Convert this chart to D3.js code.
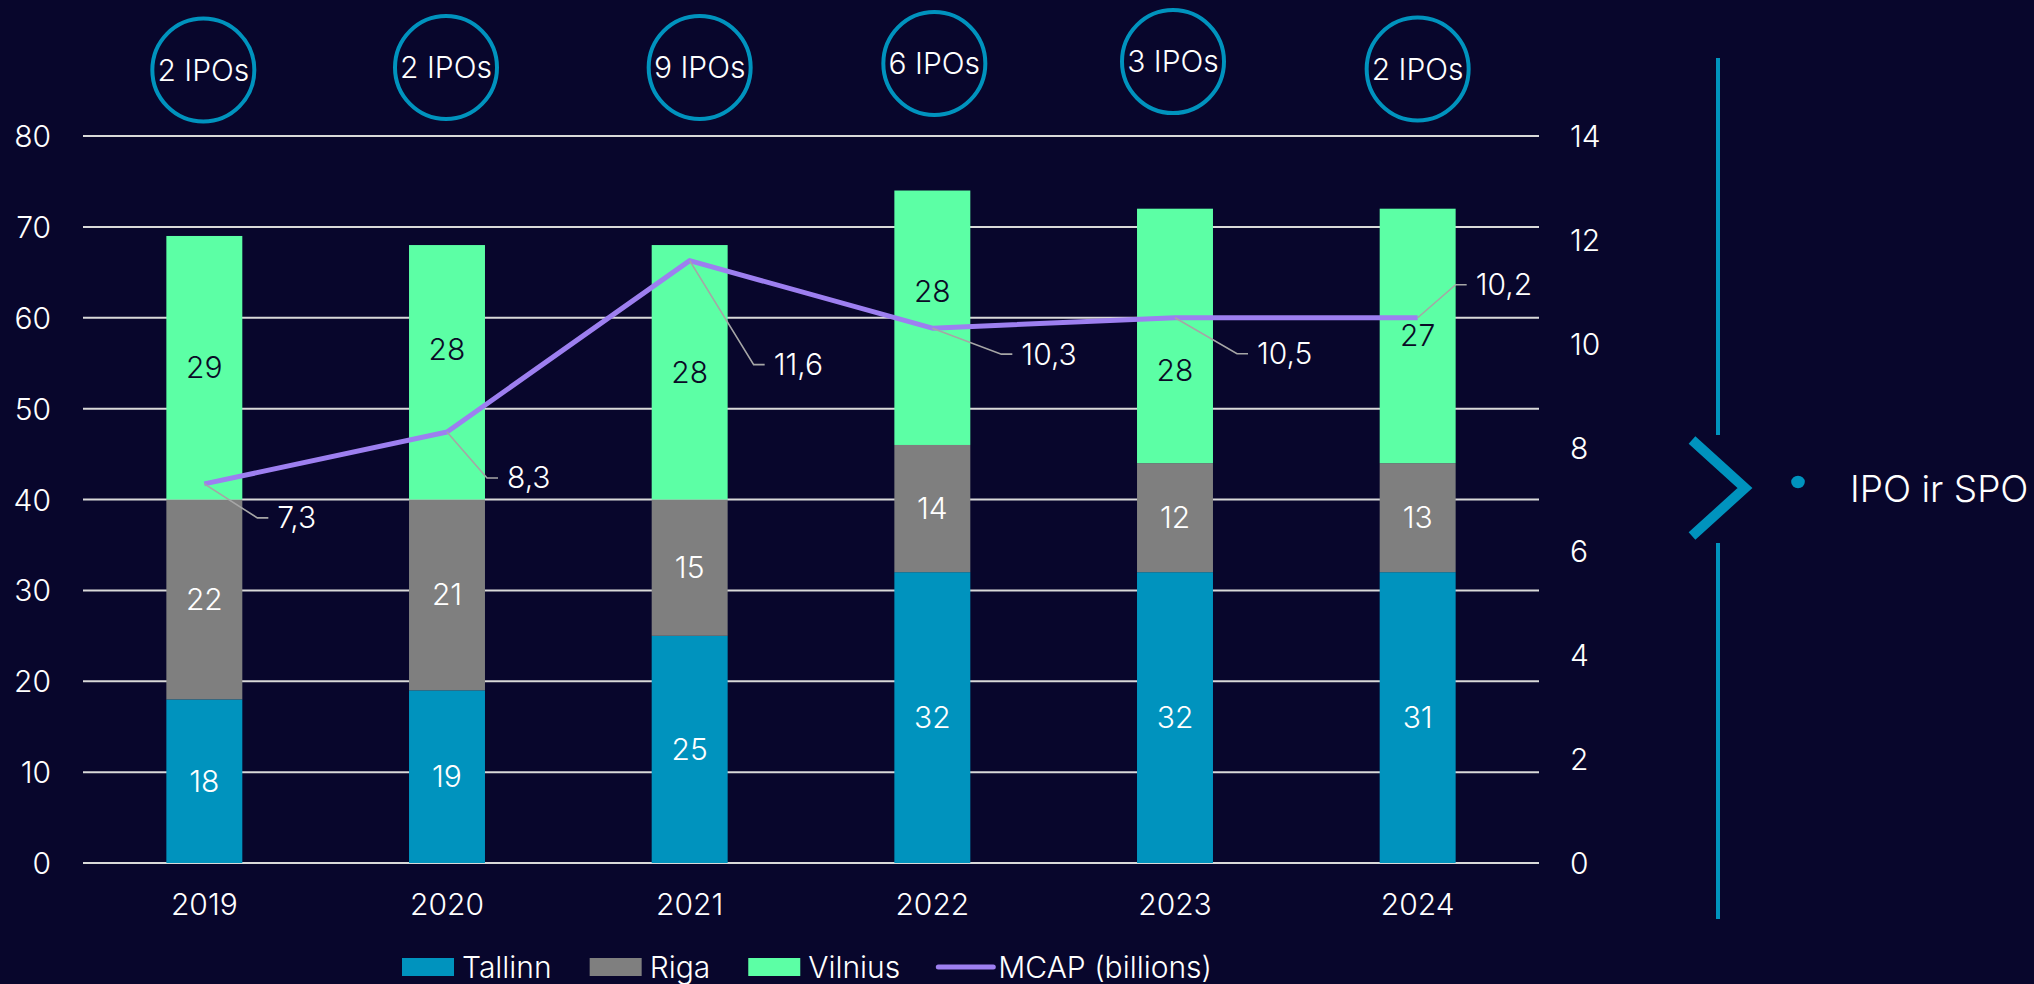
<!DOCTYPE html>
<html>
<head>
<meta charset="utf-8">
<script src="https://cdn.jsdelivr.net/npm/d3@7"></script>
<style>
  html, body { margin: 0; padding: 0; background: #08062c; }
  svg text { font-family: Inter, "Noto Sans", sans-serif; font-weight: 300; }
</style>
</head>
<body>
<div class="chart"></div>
<script>
// values
var years = ["2019", "2020", "2021", "2022", "2023", "2024"];
var tallinn = [18, 19, 25, 32, 32, 32];
var riga = [22, 21, 15, 14, 12, 12];
var vilnius = [29, 28, 28, 28, 28, 28];
// printed segment labels (the 2024 ones differ from the drawn heights)
var tallinnLabels = ["18", "19", "25", "32", "32", "31"];
var rigaLabels = ["22", "21", "15", "14", "12", "13"];
var vilniusLabels = ["29", "28", "28", "28", "28", "27"];
var mcap = [7.3, 8.3, 11.6, 10.3, 10.5, 10.5];
var mcapLabels = ["7,3", "8,3", "11,6", "10,3", "10,5", "10,2"];
var ipos = [2, 2, 9, 6, 3, 2];
var leftTicks = [0, 10, 20, 30, 40, 50, 60, 70, 80];
var rightTicks = [0, 2, 4, 6, 8, 10, 12, 14];
var seriesNames = ["Tallinn", "Riga", "Vilnius"];
var lineName = "MCAP (billions)";

var W = 2034, H = 984;
var colors = { Tallinn: "#0093be", Riga: "#7f7f7f", Vilnius: "#5cffa5" };
var lineColor = "#9d7ff0";
var accent = "#0093be";

var svg = d3.select(".chart")
    .append("svg")
    .attr("width", W)
    .attr("height", H);

svg.append("rect").attr("width", W).attr("height", H).attr("fill", "#08062c");

var plot = { left: 83, right: 1539, top: 136, bottom: 863 };

var x = d3.scaleBand()
    .domain(years)
    .range([plot.left, plot.right])
    .paddingInner(0.687)
    .paddingOuter(0.3435);

var y = d3.scaleLinear().domain([0, 80]).range([plot.bottom, plot.top]);
var yR = d3.scaleLinear().domain([0, 14]).range([plot.bottom, plot.top]);

// gridlines
svg.selectAll(".grid")
    .data(leftTicks)
    .enter()
    .append("line")
    .attr("class", "grid")
    .attr("x1", plot.left)
    .attr("x2", plot.right)
    .attr("y1", function (d) { return y(d); })
    .attr("y2", function (d) { return y(d); })
    .attr("stroke", "#d9d9d9")
    .attr("stroke-width", 2);

// left axis
var yAxis = d3.axisLeft(y).tickValues(leftTicks).tickSize(0).tickPadding(0);
var gl = svg.append("g").attr("transform", "translate(51,0)").call(yAxis);
gl.select(".domain").remove();
gl.selectAll("text").attr("fill", "#ffffff").style("font-size", "30px").attr("dy", "0.35em");

// right axis
var yAxisR = d3.axisRight(yR).tickValues(rightTicks).tickSize(0).tickPadding(0);
var gr = svg.append("g").attr("transform", "translate(1570,0)").call(yAxisR);
gr.select(".domain").remove();
gr.selectAll("text").attr("fill", "#ffffff").style("font-size", "30px").attr("dy", "0.35em");

// x axis
var xAxis = d3.axisBottom(x).tickSize(0).tickPadding(0);
var gx = svg.append("g").attr("transform", "translate(0,904)").call(xAxis);
gx.select(".domain").remove();
gx.selectAll("text").attr("fill", "#ffffff").style("font-size", "30px").attr("dy", "0.35em");

// stacked bars
var rows = years.map(function (yr, i) {
    return { year: yr, Tallinn: tallinn[i], Riga: riga[i], Vilnius: vilnius[i] };
});
var stacked = d3.stack().keys(seriesNames)(rows);
var labelSets = { Tallinn: tallinnLabels, Riga: rigaLabels, Vilnius: vilniusLabels };
var labelColors = { Tallinn: "#ffffff", Riga: "#ffffff", Vilnius: "#0a0a26" };
// vertical nudges where the labels were moved clear of the line
var labelShift = { Tallinn: [0, 0, 0, 0, 0, 0], Riga: [0, 0, 0, 0, 0, 0], Vilnius: [0, -23, 0, -26, 35, 0] };

stacked.forEach(function (layer) {
    var g = svg.append("g");
    g.selectAll("rect")
        .data(layer)
        .enter()
        .append("rect")
        .attr("x", function (d) { return x(d.data.year); })
        .attr("width", x.bandwidth())
        .attr("y", function (d) { return y(d[1]); })
        .attr("height", function (d) { return y(d[0]) - y(d[1]); })
        .attr("fill", colors[layer.key]);
    g.selectAll("text")
        .data(layer)
        .enter()
        .append("text")
        .attr("x", function (d) { return x(d.data.year) + x.bandwidth() / 2; })
        .attr("y", function (d, i) { return (y(d[0]) + y(d[1])) / 2 + labelShift[layer.key][i]; })
        .attr("dy", "0.35em")
        .attr("text-anchor", "middle")
        .style("font-size", "30px")
        .attr("fill", labelColors[layer.key])
        .text(function (d, i) { return labelSets[layer.key][i]; });
});

// MCAP line
var cx = function (i) { return x(years[i]) + x.bandwidth() / 2; };
var line = d3.line()
    .x(function (d, i) { return cx(i); })
    .y(function (d) { return yR(d); });

svg.append("path")
    .datum(mcap)
    .attr("d", line)
    .attr("fill", "none")
    .attr("stroke", lineColor)
    .attr("stroke-width", 5)
    .attr("stroke-linejoin", "round");

// leader lines + labels (elbow offsets from the point)
var labelOffsets = [[53, 34], [40, 46], [64, 104], [69, 26], [62, 36], [38, -33]];
mcap.forEach(function (v, i) {
    var px = cx(i), py = yR(v);
    var ex = px + labelOffsets[i][0], ey = py + labelOffsets[i][1];
    svg.append("polyline")
        .attr("points", [[px, py], [ex, ey], [ex + 11, ey]].map(function (p) { return p.join(","); }).join(" "))
        .attr("fill", "none")
        .attr("stroke", "#a6a6a6")
        .attr("stroke-width", 1.6);
    svg.append("text")
        .attr("x", ex + 20)
        .attr("y", ey)
        .attr("dy", "0.35em")
        .style("font-size", "30px")
        .attr("fill", "#ffffff")
        .text(mcapLabels[i]);
});

// IPO circles
var circleNudge = [[-1, 70], [-1, 67.5], [10, 67.5], [2, 63.5], [-2, 61.6], [0, 69]];
var gc = svg.selectAll(".ipo")
    .data(ipos)
    .enter()
    .append("g")
    .attr("class", "ipo")
    .attr("transform", function (d, i) {
        return "translate(" + (cx(i) + circleNudge[i][0]) + "," + circleNudge[i][1] + ")";
    });
gc.append("ellipse")
    .attr("rx", 51)
    .attr("ry", 51.5)
    .attr("fill", "none")
    .attr("stroke", accent)
    .attr("stroke-width", 4);
gc.append("text")
    .attr("text-anchor", "middle")
    .attr("dy", "0.35em")
    .style("font-size", "30px")
    .attr("fill", "#ffffff")
    .text(function (d) { return d + " IPOs"; });

// legend
var legend = svg.append("g").attr("transform", "translate(402,967)");
var lx = 0;
seriesNames.forEach(function (name) {
    legend.append("rect")
        .attr("x", lx).attr("y", -9)
        .attr("width", 52).attr("height", 18)
        .attr("fill", colors[name]);
    var t = legend.append("text")
        .attr("x", lx + 60).attr("dy", "0.35em")
        .style("font-size", "30px")
        .attr("fill", "#ffffff")
        .text(name);
    lx += 60 + t.node().getComputedTextLength() + 38;
});
legend.append("line")
    .attr("x1", lx).attr("x2", lx + 55)
    .attr("y1", 0).attr("y2", 0)
    .attr("stroke", lineColor)
    .attr("stroke-width", 5)
    .attr("stroke-linecap", "round");
legend.append("text")
    .attr("x", lx + 60).attr("dy", "0.35em")
    .style("font-size", "30px")
    .attr("fill", "#ffffff")
    .text(lineName);

// right side decoration
var side = svg.append("g");
side.append("line").attr("x1", 1718).attr("x2", 1718).attr("y1", 58).attr("y2", 435)
    .attr("stroke", accent).attr("stroke-width", 4);
side.append("line").attr("x1", 1718).attr("x2", 1718).attr("y1", 543).attr("y2", 919)
    .attr("stroke", accent).attr("stroke-width", 4);
side.append("polyline")
    .attr("points", "1692,440 1745,488 1692,536")
    .attr("fill", "none")
    .attr("stroke", accent)
    .attr("stroke-width", 10)
    .attr("stroke-linejoin", "miter");
side.append("ellipse").attr("cx", 1798).attr("cy", 482).attr("rx", 6.8).attr("ry", 6.2).attr("fill", accent);
side.append("text")
    .attr("x", 1850).attr("y", 502)
    .style("font-size", "37px")
    .attr("fill", "#ffffff")
    .text("IPO ir SPO");
</script>
</body>
</html>
